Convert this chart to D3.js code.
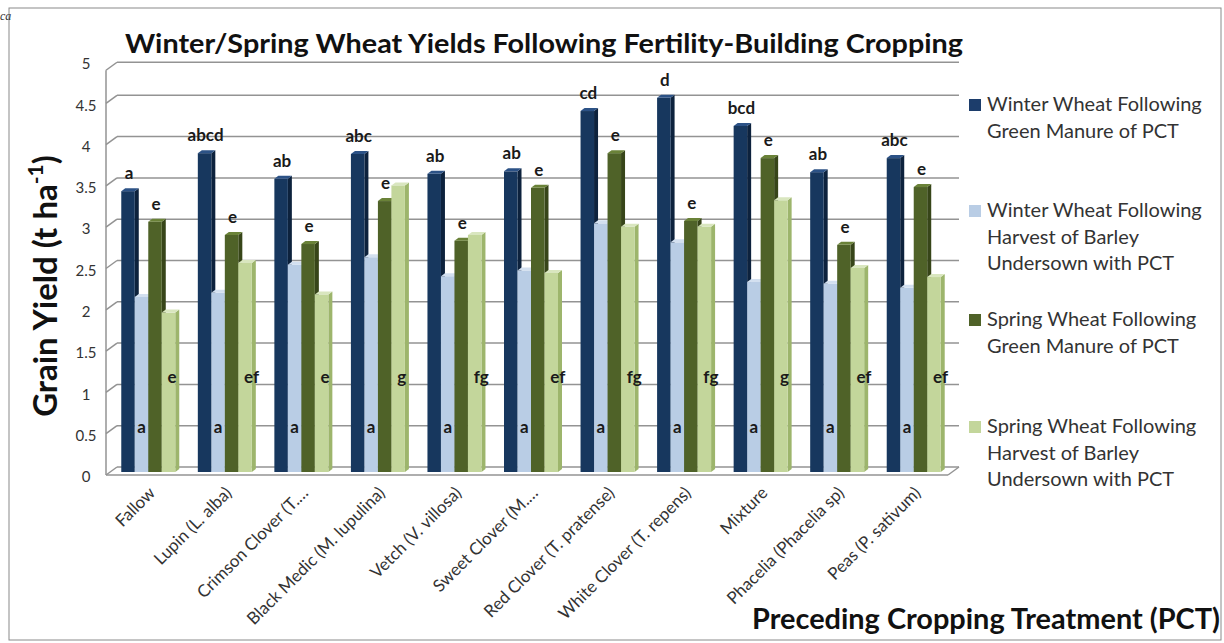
<!DOCTYPE html>
<html><head><meta charset="utf-8">
<script src="https://cdn.jsdelivr.net/npm/d3@7"></script>
<style>
html,body{margin:0;padding:0;background:#fff;}
svg{display:block;font-family:Lato,"Open Sans",sans-serif;}
</style></head>
<body>
<svg id="chart" width="1224" height="643"></svg>
<script>
const categories = ["Fallow","Lupin (L. alba)","Crimson Clover (T.\u2026","Black Medic (M. lupulina)","Vetch (V. villosa)","Sweet Clover (M.\u2026","Red Clover (T. pratense)","White Clover (T. repens)","Mixture","Phacelia (Phacelia sp)","Peas (P. sativum)"];
const seriesNames = [
  ["Winter Wheat Following","Green Manure of PCT"],
  ["Winter Wheat Following","Harvest of Barley","Undersown with PCT"],
  ["Spring Wheat Following","Green Manure of PCT"],
  ["Spring Wheat Following","Harvest of Barley","Undersown with PCT"]
];
const winterGM = [3.40,3.86,3.55,3.85,3.61,3.64,4.37,4.53,4.19,3.63,3.80];
const winterUS = [2.12,2.17,2.51,2.60,2.37,2.44,3.01,2.78,2.30,2.28,2.23];
const springGM = [3.03,2.87,2.76,3.28,2.80,3.44,3.86,3.04,3.80,2.75,3.45];
const springUS = [1.93,2.53,2.15,3.47,2.87,2.41,2.97,2.97,3.29,2.47,2.36];
const winterGMLetters = ["a","abcd","ab","abc","ab","ab","cd","d","bcd","ab","abc"];
const winterUSLetters = ["a","a","a","a","a","a","a","a","a","a","a"];
const springGMLetters = ["e","e","e","e","e","e","e","e","e","e","e"];
const springUSLetters = ["e","ef","e","g","fg","ef","fg","fg","g","ef","ef"];
const yTicks = [0,0.5,1,1.5,2,2.5,3,3.5,4,4.5,5];

const series = [winterGM, winterUS, springGM, springUS];
const faces = [
  {front:"#17375e", side:"#0d223d", top:"#2c5286"},
  {front:"#b9cde5", side:"#8fabd0", top:"#d3e0f0"},
  {front:"#4f6228", side:"#374519", top:"#6a8238"},
  {front:"#c3d69b", side:"#9db56c", top:"#d9e6bf"}
];
const legendColors = ["#1c3d6b","#b9cde5","#4f6228","#c3d69b"];

const svg = d3.select("#chart");

const backDX = 11, backDY = -8;
const barDX = 4, barDY = -3;
const depthDX = 4, depthDY = -3;

const x = d3.scaleBand().domain(d3.range(categories.length)).range([106, 948]).paddingInner(0.2946).paddingOuter(0.1473);
const xs = d3.scaleBand().domain(d3.range(4)).range([0, x.bandwidth()]);
const y = d3.scaleLinear().domain([0,5]).range([475, 62]);

svg.append("rect").attr("x",9).attr("y",8).attr("width",1212).attr("height",632).attr("fill","none").attr("stroke","#8a8a8a").attr("stroke-width",1);
svg.append("text").attr("x",0).attr("y",20).attr("font-family","Liberation Serif, serif").attr("font-style","italic").attr("font-size",12).attr("fill","#333").text("ca");

const grid = svg.append("g").attr("stroke","#939393").attr("stroke-width",1.5).attr("fill","none");
const gridVals = yTicks.slice(0, -1).concat([4.9]);
gridVals.forEach(v => {
  grid.append("line").attr("x1",106+backDX).attr("x2",948+backDX).attr("y1",y(v)+backDY).attr("y2",y(v)+backDY);
  grid.append("line").attr("x1",106).attr("x2",106+backDX).attr("y1",y(v)).attr("y2",y(v)+backDY);
});
grid.append("line").attr("x1",106).attr("x2",106).attr("y1",y(4.9)).attr("y2",y(0));
grid.append("line").attr("x1",106).attr("x2",948).attr("y1",y(0)).attr("y2",y(0));
grid.append("line").attr("x1",948).attr("x2",948+backDX).attr("y1",y(0)).attr("y2",y(0)+backDY);

svg.append("g").selectAll("text").data(yTicks).join("text")
  .attr("x",86).attr("y",d=>y(d)+2).attr("dy","0.35em").attr("text-anchor","middle")
  .attr("font-size",15).attr("fill","#333").text(d=>d);

const bars = svg.append("g");
categories.forEach((c,i) => {
  series.forEach((s,j) => {
    const v = s[i];
    const x0 = x(i) + xs(j) + barDX;
    const w = xs.bandwidth();
    const yt = y(v) + barDY, yb = y(0) + barDY;
    const f = faces[j];
    bars.append("path").attr("d",`M${x0+w},${yt}L${x0+w+depthDX},${yt+depthDY}L${x0+w+depthDX},${yb+depthDY}L${x0+w},${yb}Z`).attr("fill",f.side);
    bars.append("rect").attr("x",x0).attr("y",yt).attr("width",w).attr("height",yb-yt).attr("fill",f.front);
    bars.append("path").attr("d",`M${x0},${yt}L${x0+depthDX},${yt+depthDY}L${x0+w+depthDX},${yt+depthDY}L${x0+w},${yt}Z`).attr("fill",f.top);
  });
});

const lg = svg.append("g").attr("font-size",17).attr("font-weight","bold").attr("fill","#1a1a1a");
const barX = (i,j) => x(i) + xs(j) + barDX;
categories.forEach((c,i) => {
  const w = xs.bandwidth();
  lg.append("text").attr("x",barX(i,0)+w/2+1).attr("y",y(winterGM[i])+barDY-12).attr("text-anchor","middle").text(winterGMLetters[i]);
  lg.append("text").attr("x",barX(i,2)+w/2+1).attr("y",y(springGM[i])+barDY-12).attr("text-anchor","middle").text(springGMLetters[i]);
  lg.append("text").attr("x",barX(i,1)+w/2).attr("y",y(0.47)+barDY).attr("text-anchor","middle").text(winterUSLetters[i]);
  lg.append("text").attr("x",barX(i,3)+w/2-1).attr("y",y(1.08)+barDY).attr("text-anchor","start").text(springUSLetters[i]);
});

svg.append("g").selectAll("text").data(categories).join("text")
  .attr("transform",(d,i)=>`translate(${x(i)+x.bandwidth()/2+12},${494}) rotate(-45)`)
  .attr("text-anchor","end").attr("font-size",17).attr("fill","#333").text(d=>d);

svg.append("text").attr("x",125).attr("y",53).attr("font-size",27).attr("font-weight","bold").attr("fill","#111")
  .attr("textLength",838).attr("lengthAdjust","spacingAndGlyphs")
  .text("Winter/Spring Wheat Yields Following Fertility-Building Cropping");

const ytl = svg.append("text").attr("transform","translate(57,286) rotate(-90)").attr("text-anchor","middle")
  .attr("font-size",33).attr("font-weight","bold").attr("fill","#111");
ytl.append("tspan").text("Grain Yield (t ha");
ytl.append("tspan").attr("font-size",21).attr("dy",-14).text("-1");
ytl.append("tspan").attr("dy",14).text(")");

svg.append("text").attr("x",752).attr("y",629).attr("font-size",28).attr("font-weight","bold").attr("fill","#111")
  .attr("textLength",468).attr("lengthAdjust","spacingAndGlyphs").text("Preceding Cropping Treatment (PCT)");

const legendTop = [111,217,326,433];
const leg = svg.append("g");
seriesNames.forEach((lines,k) => {
  leg.append("rect").attr("x",969).attr("y",legendTop[k]-12).attr("width",12).attr("height",12).attr("fill",legendColors[k]);
  lines.forEach((t,m) => {
    leg.append("text").attr("x",987).attr("y",legendTop[k]+m*26.5).attr("font-size",20).attr("fill","#333").text(t);
  });
});
</script>
</body></html>
